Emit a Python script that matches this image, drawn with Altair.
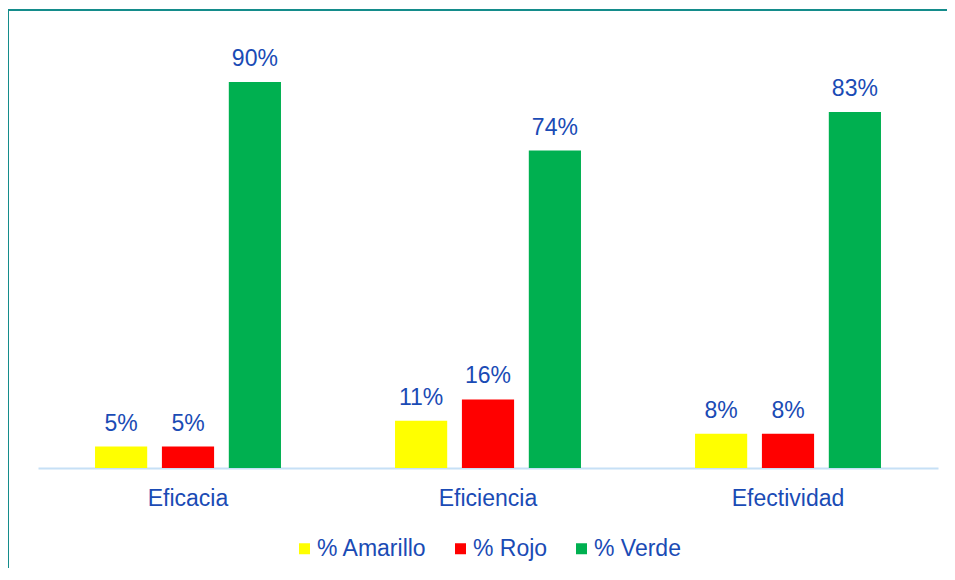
import altair as alt
import pandas as pd

categorias = ["Eficacia", "Eficiencia", "Efectividad"]
series = ["% Amarillo", "% Rojo", "% Verde"]
amarillo = [5, 11, 8]
rojo = [5, 16, 8]
verde = [90, 74, 83]
colores = ["#FFFF00", "#FF0000", "#00B050"]

rows = []
for serie, vals in zip(series, [amarillo, rojo, verde]):
    for cat, v in zip(categorias, vals):
        rows.append({"categoria": cat, "serie": serie, "valor": v})
df = pd.DataFrame(rows)

FONT = "Liberation Sans"
TXT = "#1A4BB5"
BORDER = "#148C8B"
W, H = 939, 558

x = alt.X(
    "categoria:N",
    sort=categorias,
    scale=alt.Scale(range=[30, 930], paddingInner=1 / 3, paddingOuter=1 / 6),
    axis=alt.Axis(
        title=None, orient="bottom", offset=-100, domainColor="#C6E0F6",
        domainWidth=2, ticks=False, tickSize=0, labelAngle=0, labelFont=FONT,
        labelFontSize=23, labelColor=TXT, labelPadding=19, grid=False,
    ),
)
y = alt.Y("valor:Q", scale=alt.Scale(domain=[0, 90], range=[458, 72]), axis=None)
xo = alt.XOffset(
    "serie:N", sort=series,
    scale=alt.Scale(domain=series, paddingInner=0.22, paddingOuter=0.105),
)

bars = alt.Chart(df).mark_bar().encode(
    x=x, y=y, xOffset=xo,
    color=alt.Color(
        "serie:N",
        scale=alt.Scale(domain=series, range=colores),
        legend=alt.Legend(
            title=None, orient="none", legendX=285, legendY=527,
            direction="horizontal", symbolType="square", symbolSize=121,
            symbolStrokeWidth=0, labelFontSize=23, labelColor=TXT,
            labelFont=FONT, columnPadding=22, labelOffset=1, padding=0,
        ),
    ),
)

labels = alt.Chart(df).transform_calculate(
    etiqueta="datum.valor + '%'"
).mark_text(
    baseline="alphabetic", align="center", dy=-16, fontSize=23, font=FONT, color=TXT
).encode(x=x, y=y, xOffset=xo, text="etiqueta:N")

borde = pd.DataFrame({"b": [0]})
left_border = alt.Chart(borde).mark_rule(color=BORDER, strokeWidth=2).encode(
    x=alt.value(0), y=alt.value(0), y2=alt.value(H)
)
top_border = alt.Chart(borde).mark_rule(color=BORDER, strokeWidth=2).encode(
    x=alt.value(0), x2=alt.value(W), y=alt.value(0)
)

chart = alt.layer(bars, labels, left_border, top_border).properties(
    width=W, height=H,
    padding={"left": 0, "top": 2, "right": 0, "bottom": 0},
    autosize=alt.AutoSizeParams(type="none"),
    background="white",
).configure_view(stroke="transparent", strokeWidth=0)

chart.save("out.html", embed_options={"renderer": "svg", "actions": False})
